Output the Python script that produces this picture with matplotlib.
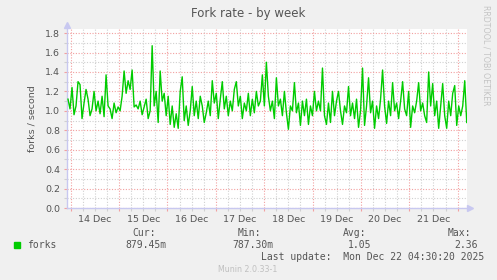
import matplotlib
matplotlib.use("Agg")
from matplotlib import pyplot as plt
import matplotlib.dates as mdates
from matplotlib.ticker import MultipleLocator, NullFormatter, FuncFormatter
import pandas as pd

# fork rate samples (forks / second)
forks = [
    1.12, 1.02, 1.24, 0.96, 1.05, 1.30, 1.27, 0.92, 1.08, 1.22,
    1.12, 0.95, 1.02, 1.20, 1.00, 1.10, 0.97, 1.15, 0.94, 1.37,
    1.05, 1.02, 0.92, 1.08, 0.98, 1.04, 1.00, 1.15, 1.41, 1.18,
    1.31, 1.22, 1.42, 1.04, 1.06, 1.02, 1.10, 0.96, 1.04, 1.12,
    0.92, 1.00, 1.67, 1.05, 1.20, 0.88, 1.41, 1.10, 1.18, 0.95,
    1.15, 0.86, 1.05, 0.83, 0.97, 0.82, 1.20, 1.35, 0.90, 1.05,
    0.85, 1.00, 1.25, 0.95, 1.10, 0.92, 1.15, 1.05, 0.88, 0.98,
    1.10, 0.95, 1.31, 1.08, 1.18, 0.92, 1.12, 1.30, 1.02, 1.15,
    0.95, 1.10, 1.00, 1.22, 1.30, 1.05, 1.15, 0.92, 1.08, 1.00,
    1.18, 0.95, 1.12, 0.98, 1.20, 1.05, 1.10, 1.37, 1.05, 1.50,
    1.15, 1.00, 1.10, 0.92, 1.34, 1.05, 1.12, 0.95, 1.20, 0.98,
    0.81, 1.05, 1.00, 1.29, 0.98, 1.08, 0.85, 1.10, 0.95, 1.12,
    0.86, 1.05, 0.95, 1.20, 1.00, 1.10, 1.00, 1.44, 0.95, 0.86,
    1.08, 0.88, 1.20, 0.95, 1.10, 1.20, 1.00, 0.86, 1.05, 0.98,
    1.25, 0.95, 1.08, 0.92, 1.12, 0.83, 1.00, 1.44, 0.85, 1.05,
    1.34, 0.98, 1.10, 0.82, 1.05, 0.92, 1.12, 1.42, 1.05, 0.87,
    1.10, 0.95, 1.29, 1.00, 1.08, 0.92, 1.10, 1.30, 1.02, 0.95,
    1.20, 0.83, 1.05, 0.98, 1.10, 1.29, 1.00, 1.08, 0.95, 0.88,
    1.40, 1.05, 1.28, 0.95, 1.10, 0.82, 1.05, 1.28, 0.95, 0.82,
    1.10, 0.95, 1.18, 1.26, 0.85, 1.05, 0.95, 1.05, 1.31, 0.88,
]
times = pd.date_range("2025-12-13 22:40", "2025-12-22 04:30", periods=len(forks))
t_start = pd.Timestamp("2025-12-13 22:10")
t_end = pd.Timestamp("2025-12-22 04:38")

stats_labels = ["Cur:", "Min:", "Avg:", "Max:"]
stats_values = ["879.45m", "787.30m", "1.05", "2.36"]
last_update = "Last update:  Mon Dec 22 04:30:20 2025"

W, H = 497, 280
txt = "#555555"
axis_col = "#c8c8f0"

fig = plt.figure(figsize=(W / 100, H / 100), dpi=100, facecolor="#f0f0f0")
ax = fig.add_axes([67 / W, 1 - 208 / H, 400 / W, 179 / H])
ax.set_facecolor("white")

ax.plot(times, forks, color="#00cc00", lw=1.0, zorder=3)

ax.set_xlim(t_start, t_end)
ax.set_ylim(0, 1.842)

ax.xaxis.set_major_locator(mdates.DayLocator())
ax.xaxis.set_major_formatter(NullFormatter())
ax.xaxis.set_minor_locator(mdates.HourLocator(byhour=[6, 12, 18]))


def day_label(x, pos):
    d = mdates.num2date(x)
    return d.strftime("%d Dec") if d.hour == 12 else ""


ax.xaxis.set_minor_formatter(FuncFormatter(day_label))
ax.yaxis.set_major_locator(MultipleLocator(0.2))
ax.yaxis.set_minor_locator(MultipleLocator(0.1))
ax.yaxis.set_major_formatter(FuncFormatter(lambda v, p: f"{v:.1f}"))

ax.grid(which="major", color="#f2a0a0", ls=(0, (1, 1.5)), lw=0.8)
ax.grid(which="minor", color="#d0d0d0", ls=(0, (1, 1.5)), lw=0.8)
ax.set_axisbelow(True)

ax.tick_params(which="both", length=2, width=0.8, labelsize=6.8,
               labelcolor=txt, color="#f2a0a0")
ax.tick_params(axis="x", which="minor", color="#d0d0d0", pad=3)
ax.tick_params(axis="y", which="minor", color="#d0d0d0")
ax.tick_params(axis="y", pad=3)

for s in ["top", "right"]:
    ax.spines[s].set_visible(False)
for s in ["left", "bottom"]:
    ax.spines[s].set_color(axis_col)
    ax.spines[s].set_linewidth(1.0)
ax.plot([0], [1.02], marker="^", ms=4, color=axis_col, transform=ax.transAxes, clip_on=False)
ax.plot([1.008], [0], marker=">", ms=4, color=axis_col, transform=ax.transAxes, clip_on=False)

ax.set_ylabel("forks / second", fontsize=6.8, color=txt, labelpad=6)
fig.text(248 / W, 1 - 13 / H, "Fork rate - by week", ha="center", va="center",
         fontsize=8.5, color=txt)
fig.text(486 / W, 1 - 5 / H, "RRDTOOL / TOBI OETIKER", rotation=-90, ha="center",
         va="top", fontsize=5.7, color="#c4c4c4")


def ftext(x, y, s, **kw):
    fig.text(x / W, 1 - y / H, s, va="center", color=txt, **kw)


mono = dict(family="DejaVu Sans Mono", fontsize=7)
fig.patches.append(plt.Rectangle((14 / W, 1 - 248 / H), 5.5 / W, 6 / H,
                                 transform=fig.transFigure, color="#00cc00"))
ftext(27, 245, "forks", **mono)
label_x = [132, 238, 343, 448]
value_x = [125, 232, 348, 454]
for lx, vx, lab, val in zip(label_x, value_x, stats_labels, stats_values):
    ftext(lx, 233, lab, **mono)
    ftext(vx, 245, val, **mono)
ftext(261, 257, last_update, **mono)
fig.text(248 / W, 1 - 269 / H, "Munin 2.0.33-1", ha="center", va="center",
         fontsize=5.7, color="#c0c0c0")

fig.savefig("out.png", dpi=100, facecolor=fig.get_facecolor())
